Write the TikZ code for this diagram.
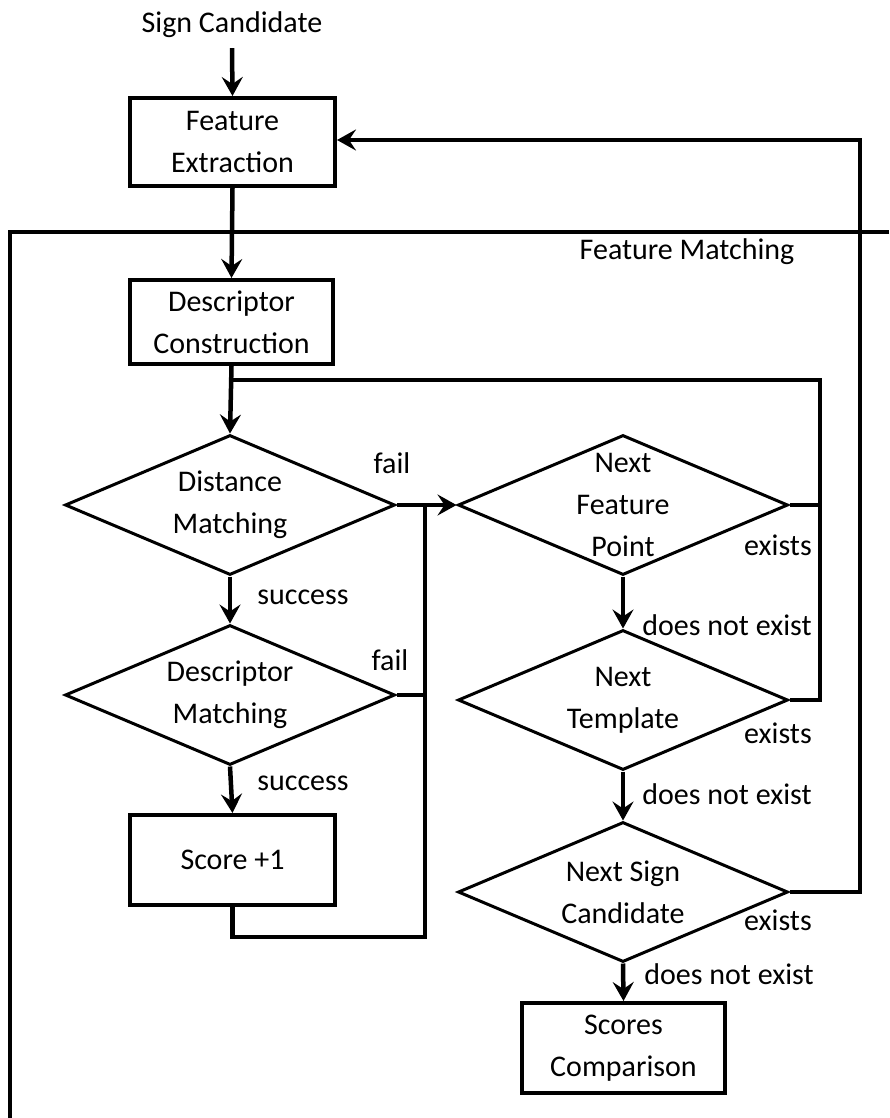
\documentclass[tikz,border=0pt]{standalone}
\usepackage{fontspec}
\setmainfont{Carlito}
\usetikzlibrary{arrows.meta,shapes.geometric}

\begin{document}
\begin{tikzpicture}[x=1pt,y=-1pt,
  font=\fontsize{30}{42}\selectfont,
  box/.style={draw,line width=4pt,rectangle,align=center,inner sep=0pt},
  dia/.style={draw,line width=3pt,diamond,minimum width=330pt,minimum height=140pt,inner sep=0pt},
  txt/.style={align=center,inner sep=0pt},
  lbl/.style={inner sep=0pt},
  flow/.style={line width=4.5pt},
  arr/.style={flow,-{Stealth[length=19pt,width=21pt,inset=7pt]}}]

\useasboundingbox (0,0) rectangle (889,1118);

% frame of the matching stage
\draw[line width=4pt] (889,232) -- (10,232) -- (10,1118);
\node[lbl] (fmlabel) at (687,252) {Feature Matching};

% main column
\node[txt] (sc) at (232,25) {Sign Candidate};
\node[box,minimum width=205pt,minimum height=88pt] (fe) at (232.5,142) {Feature\\Extraction};
\node[box,minimum width=203pt,minimum height=84pt] (dc) at (231.5,322) {Descriptor\\Construction};
\node[dia] (dm) at (230,505) {};
\node[txt] (dmt) at (dm) {Distance\\Matching};
\node[dia] (dsm) at (230,695) {};
\node[txt] (dsmt) at (dsm) {Descriptor\\Matching};
\node[box,minimum width=205pt,minimum height=90pt] (score) at (232.5,860) {Score +1};

% right column
\node[dia] (nfp) at (623,505) {};
\node[txt] (nfpt) at (nfp) {Next\\Feature\\Point};
\node[dia] (nt) at (623,700) {};
\node[txt] (ntt) at (nt) {Next\\Template};
\node[dia] (nsc) at (623,892) {};
\node[txt] (nsct) at (nsc) {Next Sign\\Candidate};
\node[box,minimum width=203pt,minimum height=90pt] (scomp) at (623.5,1048) {Scores\\Comparison};

% helper points
\coordinate (loopR) at (820,380);
\coordinate (join) at (425,505);
\coordinate (scoreLow) at (232,937);
\coordinate (backR) at (860,140);

% downward flow
\draw[arr] (sc.south) ++(0,10) -- (fe.north);
\draw[arr] (fe.south) -- (dc.north);
\draw[arr] (dc.south) -- (dm.north);
\draw[arr] (dm.south) -- (dsm.north);
\draw[arr] (dsm.south) -- (score.north);
\draw[arr] (nfp.south) -- (nt.north);
\draw[arr] (nt.south) -- (nsc.north);
\draw[arr] (nsc.south) -- (scomp.north);

% failures and score merge into the next-feature test
\draw[arr] (dm.east) -- (nfp.west);
\draw[flow] (dsm.east) -- (join |- dsm.east);
\draw[flow] (score.south) |- (join |- scoreLow) -- (join);

% loops back to the matching entry
\draw[flow] (nt.east) -| (loopR) -- (dc.south |- loopR);
\draw[flow] (nfp.east) -- (loopR |- nfp.east);

% next sign candidate back to feature extraction
\draw[arr] (nsc.east) -| (backR) -- (fe.east |- backR);

% branch labels
\node[lbl] (l1) at (392,463) {fail};
\node[lbl] (l2) at (390,660) {fail};
\node[lbl] (l3) at (303,597) {success};
\node[lbl] (l4) at (303,783) {success};
\node[lbl] (l5) at (727,625) {does not exist};
\node[lbl] (l6) at (727,794) {does not exist};
\node[lbl] (l7) at (729,974) {does not exist};
\node[lbl] (l8) at (778,545) {exists};
\node[lbl] (l9) at (778,733) {exists};
\node[lbl] (l10) at (778,920) {exists};
\end{tikzpicture}
\end{document}
